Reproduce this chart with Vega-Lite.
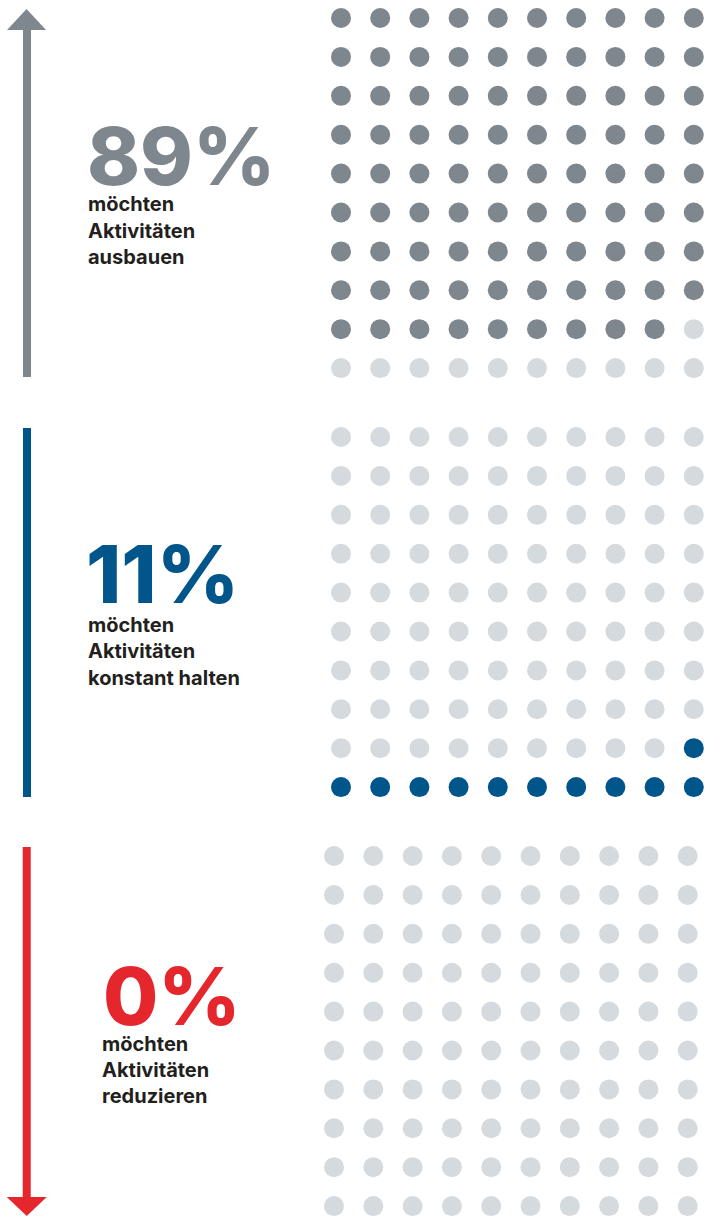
{
  "$schema": "https://vega.github.io/schema/vega-lite/v6.json",
  "padding": 0,
  "background": "white",
  "spacing": 42,
  "bounds": "flush",
  "config": {"view": {"stroke": null}, "text": {"font": "Inter"}},
  "resolve": {"scale": {"x": "independent", "y": "independent"}},
  "vconcat": [
    {
      "width": 707,
      "height": 377,
      "encoding": {
        "x": {"field": "col", "type": "quantitative", "scale": {"domain": [-7.699, 10.337], "nice": false, "zero": false}, "axis": null},
        "y": {"field": "row", "type": "quantitative", "scale": {"domain": [0.537, 10.229], "nice": false, "zero": false, "reverse": true}, "axis": null}
      },
      "layer": [
        {
          "data": {"values": [
            {"col":1,"row":1,"group":"ausbauen"},{"col":2,"row":1,"group":"ausbauen"},{"col":3,"row":1,"group":"ausbauen"},{"col":4,"row":1,"group":"ausbauen"},{"col":5,"row":1,"group":"ausbauen"},{"col":6,"row":1,"group":"ausbauen"},{"col":7,"row":1,"group":"ausbauen"},{"col":8,"row":1,"group":"ausbauen"},{"col":9,"row":1,"group":"ausbauen"},{"col":10,"row":1,"group":"ausbauen"},
            {"col":1,"row":2,"group":"ausbauen"},{"col":2,"row":2,"group":"ausbauen"},{"col":3,"row":2,"group":"ausbauen"},{"col":4,"row":2,"group":"ausbauen"},{"col":5,"row":2,"group":"ausbauen"},{"col":6,"row":2,"group":"ausbauen"},{"col":7,"row":2,"group":"ausbauen"},{"col":8,"row":2,"group":"ausbauen"},{"col":9,"row":2,"group":"ausbauen"},{"col":10,"row":2,"group":"ausbauen"},
            {"col":1,"row":3,"group":"ausbauen"},{"col":2,"row":3,"group":"ausbauen"},{"col":3,"row":3,"group":"ausbauen"},{"col":4,"row":3,"group":"ausbauen"},{"col":5,"row":3,"group":"ausbauen"},{"col":6,"row":3,"group":"ausbauen"},{"col":7,"row":3,"group":"ausbauen"},{"col":8,"row":3,"group":"ausbauen"},{"col":9,"row":3,"group":"ausbauen"},{"col":10,"row":3,"group":"ausbauen"},
            {"col":1,"row":4,"group":"ausbauen"},{"col":2,"row":4,"group":"ausbauen"},{"col":3,"row":4,"group":"ausbauen"},{"col":4,"row":4,"group":"ausbauen"},{"col":5,"row":4,"group":"ausbauen"},{"col":6,"row":4,"group":"ausbauen"},{"col":7,"row":4,"group":"ausbauen"},{"col":8,"row":4,"group":"ausbauen"},{"col":9,"row":4,"group":"ausbauen"},{"col":10,"row":4,"group":"ausbauen"},
            {"col":1,"row":5,"group":"ausbauen"},{"col":2,"row":5,"group":"ausbauen"},{"col":3,"row":5,"group":"ausbauen"},{"col":4,"row":5,"group":"ausbauen"},{"col":5,"row":5,"group":"ausbauen"},{"col":6,"row":5,"group":"ausbauen"},{"col":7,"row":5,"group":"ausbauen"},{"col":8,"row":5,"group":"ausbauen"},{"col":9,"row":5,"group":"ausbauen"},{"col":10,"row":5,"group":"ausbauen"},
            {"col":1,"row":6,"group":"ausbauen"},{"col":2,"row":6,"group":"ausbauen"},{"col":3,"row":6,"group":"ausbauen"},{"col":4,"row":6,"group":"ausbauen"},{"col":5,"row":6,"group":"ausbauen"},{"col":6,"row":6,"group":"ausbauen"},{"col":7,"row":6,"group":"ausbauen"},{"col":8,"row":6,"group":"ausbauen"},{"col":9,"row":6,"group":"ausbauen"},{"col":10,"row":6,"group":"ausbauen"},
            {"col":1,"row":7,"group":"ausbauen"},{"col":2,"row":7,"group":"ausbauen"},{"col":3,"row":7,"group":"ausbauen"},{"col":4,"row":7,"group":"ausbauen"},{"col":5,"row":7,"group":"ausbauen"},{"col":6,"row":7,"group":"ausbauen"},{"col":7,"row":7,"group":"ausbauen"},{"col":8,"row":7,"group":"ausbauen"},{"col":9,"row":7,"group":"ausbauen"},{"col":10,"row":7,"group":"ausbauen"},
            {"col":1,"row":8,"group":"ausbauen"},{"col":2,"row":8,"group":"ausbauen"},{"col":3,"row":8,"group":"ausbauen"},{"col":4,"row":8,"group":"ausbauen"},{"col":5,"row":8,"group":"ausbauen"},{"col":6,"row":8,"group":"ausbauen"},{"col":7,"row":8,"group":"ausbauen"},{"col":8,"row":8,"group":"ausbauen"},{"col":9,"row":8,"group":"ausbauen"},{"col":10,"row":8,"group":"ausbauen"},
            {"col":1,"row":9,"group":"ausbauen"},{"col":2,"row":9,"group":"ausbauen"},{"col":3,"row":9,"group":"ausbauen"},{"col":4,"row":9,"group":"ausbauen"},{"col":5,"row":9,"group":"ausbauen"},{"col":6,"row":9,"group":"ausbauen"},{"col":7,"row":9,"group":"ausbauen"},{"col":8,"row":9,"group":"ausbauen"},{"col":9,"row":9,"group":"ausbauen"},{"col":10,"row":9,"group":"übrige"},
            {"col":1,"row":10,"group":"übrige"},{"col":2,"row":10,"group":"übrige"},{"col":3,"row":10,"group":"übrige"},{"col":4,"row":10,"group":"übrige"},{"col":5,"row":10,"group":"übrige"},{"col":6,"row":10,"group":"übrige"},{"col":7,"row":10,"group":"übrige"},{"col":8,"row":10,"group":"übrige"},{"col":9,"row":10,"group":"übrige"},{"col":10,"row":10,"group":"übrige"}
          ]},
          "mark": {"type": "circle", "size": 400, "opacity": 1},
          "encoding": {
            "color": {"field": "group", "type": "nominal", "scale": {"domain": ["ausbauen", "konstant halten", "reduzieren", "übrige"], "range": ["#7e868e", "#00558b", "#e5272d", "#d5dadf"]}, "legend": null}
          }
        },
        {
          "data": {"values": [{"col": -7.01, "row": 1.257, "row2": 10.229}]},
          "mark": {"type": "rule", "color": "#7e868e", "strokeWidth": 8},
          "encoding": {"y2": {"field": "row2"}}
        },
        {
          "data": {"values": [{"col": -7.022, "row": 1.039}]},
          "mark": {"type": "point", "filled": true, "opacity": 1, "color": "#7e868e", "size": 1521, "shape": "M-1,0.54L0,-0.54L1,0.54Z"},
          "encoding": {}
        },
        {
          "data": {"values": [{"col": -5.48, "row": 5.293, "text": "89%"}]},
          "mark": {"type": "text", "align": "left", "baseline": "alphabetic", "fontSize": 80, "fontWeight": 800, "color": "#7e868e"},
          "encoding": {"text": {"field": "text"}}
        },
        {
          "data": {"values": [
            {"col": -5.454, "row": 5.961, "text": "möchten"},
            {"col": -5.454, "row": 6.656, "text": "Aktivitäten"},
            {"col": -5.454, "row": 7.324, "text": "ausbauen"}
          ]},
          "mark": {"type": "text", "align": "left", "baseline": "alphabetic", "fontSize": 20, "fontWeight": 700, "color": "#231f20"},
          "encoding": {"text": {"field": "text"}}
        }
      ]
    },
    {
      "width": 707,
      "height": 377,
      "encoding": {
        "x": {"field": "col", "type": "quantitative", "scale": {"domain": [-7.699, 10.337], "nice": false, "zero": false}, "axis": null},
        "y": {"field": "row", "type": "quantitative", "scale": {"domain": [0.537, 10.229], "nice": false, "zero": false, "reverse": true}, "axis": null}
      },
      "layer": [
        {
          "data": {"values": [
            {"col":1,"row":1,"group":"übrige"},{"col":2,"row":1,"group":"übrige"},{"col":3,"row":1,"group":"übrige"},{"col":4,"row":1,"group":"übrige"},{"col":5,"row":1,"group":"übrige"},{"col":6,"row":1,"group":"übrige"},{"col":7,"row":1,"group":"übrige"},{"col":8,"row":1,"group":"übrige"},{"col":9,"row":1,"group":"übrige"},{"col":10,"row":1,"group":"übrige"},
            {"col":1,"row":2,"group":"übrige"},{"col":2,"row":2,"group":"übrige"},{"col":3,"row":2,"group":"übrige"},{"col":4,"row":2,"group":"übrige"},{"col":5,"row":2,"group":"übrige"},{"col":6,"row":2,"group":"übrige"},{"col":7,"row":2,"group":"übrige"},{"col":8,"row":2,"group":"übrige"},{"col":9,"row":2,"group":"übrige"},{"col":10,"row":2,"group":"übrige"},
            {"col":1,"row":3,"group":"übrige"},{"col":2,"row":3,"group":"übrige"},{"col":3,"row":3,"group":"übrige"},{"col":4,"row":3,"group":"übrige"},{"col":5,"row":3,"group":"übrige"},{"col":6,"row":3,"group":"übrige"},{"col":7,"row":3,"group":"übrige"},{"col":8,"row":3,"group":"übrige"},{"col":9,"row":3,"group":"übrige"},{"col":10,"row":3,"group":"übrige"},
            {"col":1,"row":4,"group":"übrige"},{"col":2,"row":4,"group":"übrige"},{"col":3,"row":4,"group":"übrige"},{"col":4,"row":4,"group":"übrige"},{"col":5,"row":4,"group":"übrige"},{"col":6,"row":4,"group":"übrige"},{"col":7,"row":4,"group":"übrige"},{"col":8,"row":4,"group":"übrige"},{"col":9,"row":4,"group":"übrige"},{"col":10,"row":4,"group":"übrige"},
            {"col":1,"row":5,"group":"übrige"},{"col":2,"row":5,"group":"übrige"},{"col":3,"row":5,"group":"übrige"},{"col":4,"row":5,"group":"übrige"},{"col":5,"row":5,"group":"übrige"},{"col":6,"row":5,"group":"übrige"},{"col":7,"row":5,"group":"übrige"},{"col":8,"row":5,"group":"übrige"},{"col":9,"row":5,"group":"übrige"},{"col":10,"row":5,"group":"übrige"},
            {"col":1,"row":6,"group":"übrige"},{"col":2,"row":6,"group":"übrige"},{"col":3,"row":6,"group":"übrige"},{"col":4,"row":6,"group":"übrige"},{"col":5,"row":6,"group":"übrige"},{"col":6,"row":6,"group":"übrige"},{"col":7,"row":6,"group":"übrige"},{"col":8,"row":6,"group":"übrige"},{"col":9,"row":6,"group":"übrige"},{"col":10,"row":6,"group":"übrige"},
            {"col":1,"row":7,"group":"übrige"},{"col":2,"row":7,"group":"übrige"},{"col":3,"row":7,"group":"übrige"},{"col":4,"row":7,"group":"übrige"},{"col":5,"row":7,"group":"übrige"},{"col":6,"row":7,"group":"übrige"},{"col":7,"row":7,"group":"übrige"},{"col":8,"row":7,"group":"übrige"},{"col":9,"row":7,"group":"übrige"},{"col":10,"row":7,"group":"übrige"},
            {"col":1,"row":8,"group":"übrige"},{"col":2,"row":8,"group":"übrige"},{"col":3,"row":8,"group":"übrige"},{"col":4,"row":8,"group":"übrige"},{"col":5,"row":8,"group":"übrige"},{"col":6,"row":8,"group":"übrige"},{"col":7,"row":8,"group":"übrige"},{"col":8,"row":8,"group":"übrige"},{"col":9,"row":8,"group":"übrige"},{"col":10,"row":8,"group":"übrige"},
            {"col":1,"row":9,"group":"übrige"},{"col":2,"row":9,"group":"übrige"},{"col":3,"row":9,"group":"übrige"},{"col":4,"row":9,"group":"übrige"},{"col":5,"row":9,"group":"übrige"},{"col":6,"row":9,"group":"übrige"},{"col":7,"row":9,"group":"übrige"},{"col":8,"row":9,"group":"übrige"},{"col":9,"row":9,"group":"übrige"},{"col":10,"row":9,"group":"konstant halten"},
            {"col":1,"row":10,"group":"konstant halten"},{"col":2,"row":10,"group":"konstant halten"},{"col":3,"row":10,"group":"konstant halten"},{"col":4,"row":10,"group":"konstant halten"},{"col":5,"row":10,"group":"konstant halten"},{"col":6,"row":10,"group":"konstant halten"},{"col":7,"row":10,"group":"konstant halten"},{"col":8,"row":10,"group":"konstant halten"},{"col":9,"row":10,"group":"konstant halten"},{"col":10,"row":10,"group":"konstant halten"}
          ]},
          "mark": {"type": "circle", "size": 400, "opacity": 1},
          "encoding": {
            "color": {"field": "group", "type": "nominal", "scale": {"domain": ["ausbauen", "konstant halten", "reduzieren", "übrige"], "range": ["#7e868e", "#00558b", "#e5272d", "#d5dadf"]}, "legend": null}
          }
        },
        {
          "data": {"values": [{"col": -7.01, "row": 0.769, "row2": 10.255}]},
          "mark": {"type": "rule", "color": "#00558b", "strokeWidth": 8},
          "encoding": {"y2": {"field": "row2"}}
        },
        {
          "data": {"values": [{"col": -5.505, "row": 5.267, "text": "11%"}]},
          "mark": {"type": "text", "align": "left", "baseline": "alphabetic", "fontSize": 80, "fontWeight": 800, "color": "#00558b"},
          "encoding": {"text": {"field": "text"}}
        },
        {
          "data": {"values": [
            {"col": -5.454, "row": 6.013, "text": "möchten"},
            {"col": -5.454, "row": 6.681, "text": "Aktivitäten"},
            {"col": -5.454, "row": 7.375, "text": "konstant halten"}
          ]},
          "mark": {"type": "text", "align": "left", "baseline": "alphabetic", "fontSize": 20, "fontWeight": 700, "color": "#231f20"},
          "encoding": {"text": {"field": "text"}}
        }
      ]
    },
    {
      "width": 707,
      "height": 377,
      "encoding": {
        "x": {"field": "col", "type": "quantitative", "scale": {"domain": [-7.499, 10.491], "nice": false, "zero": false}, "axis": null},
        "y": {"field": "row", "type": "quantitative", "scale": {"domain": [0.537, 10.229], "nice": false, "zero": false, "reverse": true}, "axis": null}
      },
      "layer": [
        {
          "data": {"values": [
            {"col":1,"row":1,"group":"übrige"},{"col":2,"row":1,"group":"übrige"},{"col":3,"row":1,"group":"übrige"},{"col":4,"row":1,"group":"übrige"},{"col":5,"row":1,"group":"übrige"},{"col":6,"row":1,"group":"übrige"},{"col":7,"row":1,"group":"übrige"},{"col":8,"row":1,"group":"übrige"},{"col":9,"row":1,"group":"übrige"},{"col":10,"row":1,"group":"übrige"},
            {"col":1,"row":2,"group":"übrige"},{"col":2,"row":2,"group":"übrige"},{"col":3,"row":2,"group":"übrige"},{"col":4,"row":2,"group":"übrige"},{"col":5,"row":2,"group":"übrige"},{"col":6,"row":2,"group":"übrige"},{"col":7,"row":2,"group":"übrige"},{"col":8,"row":2,"group":"übrige"},{"col":9,"row":2,"group":"übrige"},{"col":10,"row":2,"group":"übrige"},
            {"col":1,"row":3,"group":"übrige"},{"col":2,"row":3,"group":"übrige"},{"col":3,"row":3,"group":"übrige"},{"col":4,"row":3,"group":"übrige"},{"col":5,"row":3,"group":"übrige"},{"col":6,"row":3,"group":"übrige"},{"col":7,"row":3,"group":"übrige"},{"col":8,"row":3,"group":"übrige"},{"col":9,"row":3,"group":"übrige"},{"col":10,"row":3,"group":"übrige"},
            {"col":1,"row":4,"group":"übrige"},{"col":2,"row":4,"group":"übrige"},{"col":3,"row":4,"group":"übrige"},{"col":4,"row":4,"group":"übrige"},{"col":5,"row":4,"group":"übrige"},{"col":6,"row":4,"group":"übrige"},{"col":7,"row":4,"group":"übrige"},{"col":8,"row":4,"group":"übrige"},{"col":9,"row":4,"group":"übrige"},{"col":10,"row":4,"group":"übrige"},
            {"col":1,"row":5,"group":"übrige"},{"col":2,"row":5,"group":"übrige"},{"col":3,"row":5,"group":"übrige"},{"col":4,"row":5,"group":"übrige"},{"col":5,"row":5,"group":"übrige"},{"col":6,"row":5,"group":"übrige"},{"col":7,"row":5,"group":"übrige"},{"col":8,"row":5,"group":"übrige"},{"col":9,"row":5,"group":"übrige"},{"col":10,"row":5,"group":"übrige"},
            {"col":1,"row":6,"group":"übrige"},{"col":2,"row":6,"group":"übrige"},{"col":3,"row":6,"group":"übrige"},{"col":4,"row":6,"group":"übrige"},{"col":5,"row":6,"group":"übrige"},{"col":6,"row":6,"group":"übrige"},{"col":7,"row":6,"group":"übrige"},{"col":8,"row":6,"group":"übrige"},{"col":9,"row":6,"group":"übrige"},{"col":10,"row":6,"group":"übrige"},
            {"col":1,"row":7,"group":"übrige"},{"col":2,"row":7,"group":"übrige"},{"col":3,"row":7,"group":"übrige"},{"col":4,"row":7,"group":"übrige"},{"col":5,"row":7,"group":"übrige"},{"col":6,"row":7,"group":"übrige"},{"col":7,"row":7,"group":"übrige"},{"col":8,"row":7,"group":"übrige"},{"col":9,"row":7,"group":"übrige"},{"col":10,"row":7,"group":"übrige"},
            {"col":1,"row":8,"group":"übrige"},{"col":2,"row":8,"group":"übrige"},{"col":3,"row":8,"group":"übrige"},{"col":4,"row":8,"group":"übrige"},{"col":5,"row":8,"group":"übrige"},{"col":6,"row":8,"group":"übrige"},{"col":7,"row":8,"group":"übrige"},{"col":8,"row":8,"group":"übrige"},{"col":9,"row":8,"group":"übrige"},{"col":10,"row":8,"group":"übrige"},
            {"col":1,"row":9,"group":"übrige"},{"col":2,"row":9,"group":"übrige"},{"col":3,"row":9,"group":"übrige"},{"col":4,"row":9,"group":"übrige"},{"col":5,"row":9,"group":"übrige"},{"col":6,"row":9,"group":"übrige"},{"col":7,"row":9,"group":"übrige"},{"col":8,"row":9,"group":"übrige"},{"col":9,"row":9,"group":"übrige"},{"col":10,"row":9,"group":"übrige"},
            {"col":1,"row":10,"group":"übrige"},{"col":2,"row":10,"group":"übrige"},{"col":3,"row":10,"group":"übrige"},{"col":4,"row":10,"group":"übrige"},{"col":5,"row":10,"group":"übrige"},{"col":6,"row":10,"group":"übrige"},{"col":7,"row":10,"group":"übrige"},{"col":8,"row":10,"group":"übrige"},{"col":9,"row":10,"group":"übrige"},{"col":10,"row":10,"group":"übrige"}
          ]},
          "mark": {"type": "circle", "size": 400, "opacity": 1},
          "encoding": {
            "color": {"field": "group", "type": "nominal", "scale": {"domain": ["ausbauen", "konstant halten", "reduzieren", "übrige"], "range": ["#7e868e", "#00558b", "#e5272d", "#d5dadf"]}, "legend": null}
          }
        },
        {
          "data": {"values": [{"col": -6.819, "row": 0.769, "row2": 9.792}]},
          "mark": {"type": "rule", "color": "#e5272d", "strokeWidth": 8},
          "encoding": {"y2": {"field": "row2"}}
        },
        {
          "data": {"values": [{"col": -6.819, "row": 10.01}]},
          "mark": {"type": "point", "filled": true, "opacity": 1, "color": "#e5272d", "size": 1600, "shape": "M-1,-0.475L0,0.475L1,-0.475Z"},
          "encoding": {}
        },
        {
          "data": {"values": [{"col": -4.878, "row": 5.344, "text": "0%"}]},
          "mark": {"type": "text", "align": "left", "baseline": "alphabetic", "fontSize": 80, "fontWeight": 800, "color": "#e5272d"},
          "encoding": {"text": {"field": "text"}}
        },
        {
          "data": {"values": [
            {"col": -4.903, "row": 6.013, "text": "möchten"},
            {"col": -4.903, "row": 6.681, "text": "Aktivitäten"},
            {"col": -4.903, "row": 7.35, "text": "reduzieren"}
          ]},
          "mark": {"type": "text", "align": "left", "baseline": "alphabetic", "fontSize": 20, "fontWeight": 700, "color": "#231f20"},
          "encoding": {"text": {"field": "text"}}
        }
      ]
    }
  ]
}
